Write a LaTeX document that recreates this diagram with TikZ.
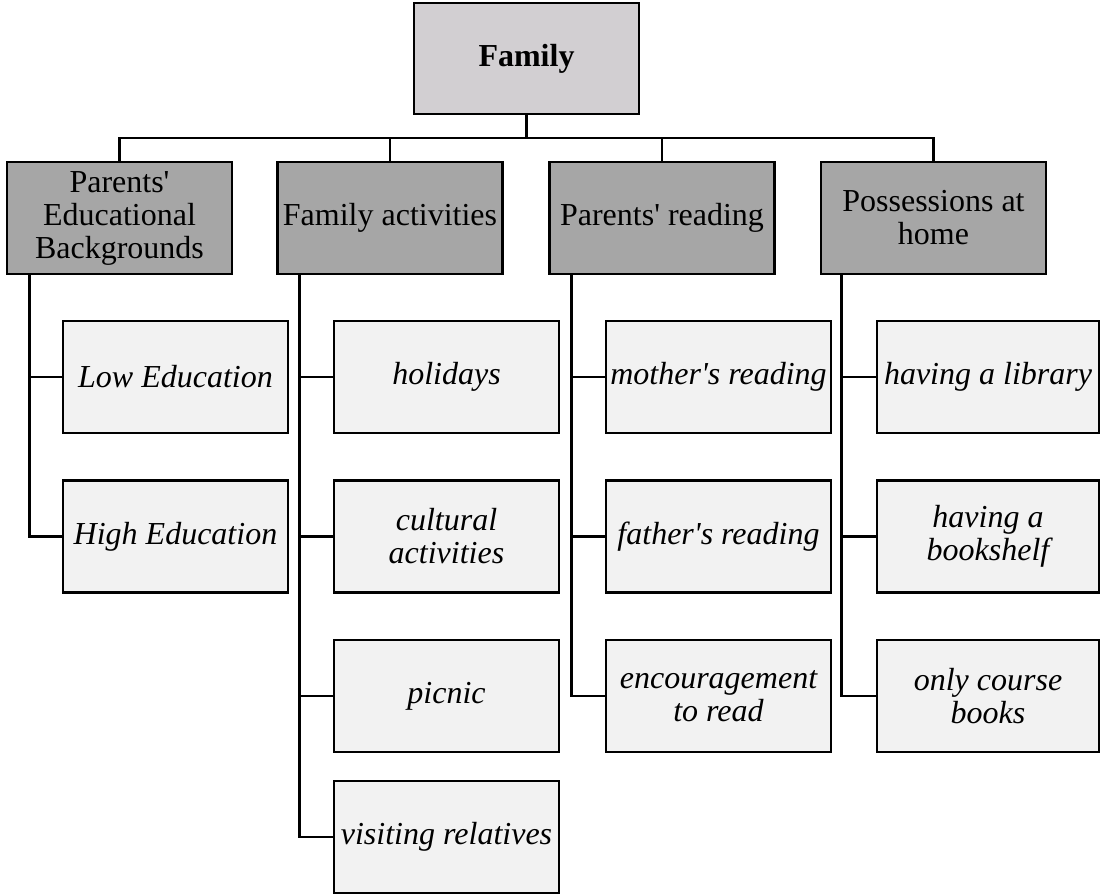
\documentclass[tikz,border=0pt]{standalone}
\usepackage{fontspec}
\setmainfont{Liberation Serif}
\newcommand\dsize{\fontsize{32}{33}\selectfont}
\newcommand\apos{\textquotesingle}
\definecolor{rootgray}{HTML}{D2CFD2}
\definecolor{catgray}{HTML}{A6A6A6}
\definecolor{leafgray}{HTML}{F2F2F2}
\begin{document}
\begin{tikzpicture}[x=1pt,y=-1pt,line width=2.6pt,
  box/.style={draw=black,line width=2.6pt,inner sep=0pt,align=center,
    minimum width=225pt,minimum height=112pt},
  rootbox/.style={box,fill=rootgray,minimum height=111pt,font=\rmfamily\dsize\bfseries},
  catbox/.style={box,fill=catgray,font=\rmfamily\dsize},
  leafbox/.style={box,fill=leafgray,font=\rmfamily\dsize\itshape},
  link/.style={draw=black,line width=2.6pt}]
\useasboundingbox (0,0) rectangle (1101,895);

% top of the tree
\node[rootbox] (fam) at (526.5,58.5) {Family};

% categories
\node[catbox] (c1) at (119.5,218) {Parents\apos\\Educational\\Backgrounds};
\node[catbox] (c2) at (390,218) {Family activities};
\node[catbox] (c3) at (662,218) {Parents\apos{} reading};
\node[catbox] (c4) at (933.5,218) {Possessions at\\home};

% items of the first category
\node[leafbox] (l11) at (175.5,377) {Low Education};
\node[leafbox] (l12) at (175.5,536.5) {High Education};

% items of the second category
\node[leafbox] (l21) at (446.5,377) {holidays};
\node[leafbox] (l22) at (446.5,536.5) {cultural\\activities};
\node[leafbox] (l23) at (446.5,696) {picnic};
\node[leafbox] (l24) at (446.5,837) {visiting relatives};

% items of the third category
\node[leafbox] (l31) at (718.5,377) {mother\apos{}s reading};
\node[leafbox] (l32) at (718.5,536.5) {father\apos{}s reading};
\node[leafbox] (l33) at (718.5,696) {encouragement\\to read};

% items of the fourth category
\node[leafbox, minimum width=222pt] (l41) at (988,377) {having a library};
\node[leafbox, minimum width=222pt] (l42) at (988,536.5) {having a\\bookshelf};
\node[leafbox, minimum width=222pt] (l43) at (988,696) {only course\\books};

% bus from the root to the categories
\coordinate (bus) at (0,138);
\draw[link] (fam.south) -- (fam.south |- bus);
\draw[link] (c1.north) -- (c1.north |- bus) -- (c4.north |- bus) -- (c4.north);
\draw[link] (c2.north) -- (c2.north |- bus);
\draw[link] (c3.north) -- (c3.north |- bus);

% spines under each category
\path (c1.south west) ++(24,0) coordinate (s1);
\path (c2.south west) ++(23,0) coordinate (s2);
\path (c3.south west) ++(23,0) coordinate (s3);
\path (c4.south west) ++(22,0) coordinate (s4);

\draw[link] (s1) |- (l12.west);
\draw[link] (s1 |- l11.west) -- (l11.west);

\draw[link] (s2) |- (l24.west);
\draw[link] (s2 |- l21.west) -- (l21.west);
\draw[link] (s2 |- l22.west) -- (l22.west);
\draw[link] (s2 |- l23.west) -- (l23.west);

\draw[link] (s3) |- (l33.west);
\draw[link] (s3 |- l31.west) -- (l31.west);
\draw[link] (s3 |- l32.west) -- (l32.west);

\draw[link] (s4) |- (l43.west);
\draw[link] (s4 |- l41.west) -- (l41.west);
\draw[link] (s4 |- l42.west) -- (l42.west);
\end{tikzpicture}
\end{document}
